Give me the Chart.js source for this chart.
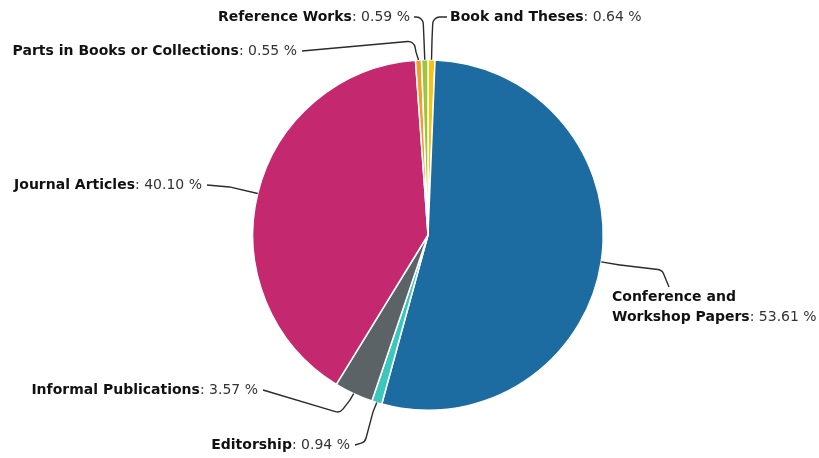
<!DOCTYPE html>
<html>
<head>
<meta charset="utf-8">
<script src="https://cdn.jsdelivr.net/npm/chart.js@4/dist/chart.umd.min.js"></script>
<style>
  html, body { margin: 0; padding: 0; background: #ffffff; }
  #wrap { width: 819px; height: 458px; position: relative; }
</style>
</head>
<body>
<div id="wrap"><canvas id="c" width="819" height="458"></canvas></div>
<script>
// Publication types and their share of all publications (percent)
const categories = [
  'Book and Theses',
  'Conference and Workshop Papers',
  'Editorship',
  'Informal Publications',
  'Journal Articles',
  'Parts in Books or Collections',
  'Reference Works'
];
const shares = [0.64, 53.61, 0.94, 3.57, 40.10, 0.55, 0.59];
const sliceColors = ['#f1c514', '#1c6ba1', '#3cc7bd', '#5c6367', '#c4296f', '#f29d2a', '#9dc43a'];

// Label placement: name lines, text anchor and the bends of each leader line
// (leader runs from the label towards the slice; the slice end comes from the arc)
const labelLayout = [
  { lines: ['Book and Theses'], x: 450, y: 17, align: 'left',
    path: [[447, 17], [433, 17], [432, 40]] },
  { lines: ['Conference and', 'Workshop Papers'], x: 612, y: 297, align: 'left',
    path: [[669, 287], [662, 270], [620, 265]] },
  { lines: ['Editorship'], x: 350, y: 445, align: 'right',
    path: [[355, 445], [365, 442], [373, 412]] },
  { lines: ['Informal Publications'], x: 258, y: 390, align: 'right',
    path: [[263, 390], [340, 413], [350, 400]] },
  { lines: ['Journal Articles'], x: 202, y: 185, align: 'right',
    path: [[207, 185], [230, 187]] },
  { lines: ['Parts in Books or Collections'], x: 297, y: 51, align: 'right',
    path: [[302, 51], [414, 41], [416, 52]] },
  { lines: ['Reference Works'], x: 410, y: 17, align: 'right',
    path: [[414, 17], [423, 17], [424, 40]] }
];

const FONT_FAMILY = '"DejaVu Sans", Verdana, sans-serif';
const FONT_SIZE = 14;
const LINE_H = 20;

function fmt(v) { return v.toFixed(2) + ' %'; }

// Draws each label (bold name + value) and its curved leader line
const leaderLabels = {
  id: 'leaderLabels',
  afterDatasetsDraw(chart) {
    const ctx = chart.ctx;
    const meta = chart.getDatasetMeta(0);
    ctx.save();
    meta.data.forEach((arc, i) => {
      const lay = labelLayout[i];
      const p = arc.getProps(['x', 'y', 'startAngle', 'endAngle', 'outerRadius'], true);
      const mid = (p.startAngle + p.endAngle) / 2;
      const ex = p.x + Math.cos(mid) * p.outerRadius;
      const ey = p.y + Math.sin(mid) * p.outerRadius;

      // leader line with rounded bends
      const pts = lay.path.concat([[ex, ey]]);
      ctx.beginPath();
      ctx.strokeStyle = '#2b2b2b';
      ctx.lineWidth = 1.4;
      ctx.lineJoin = 'round';
      ctx.moveTo(pts[0][0], pts[0][1]);
      for (let k = 1; k < pts.length - 1; k++) {
        ctx.arcTo(pts[k][0], pts[k][1], pts[k + 1][0], pts[k + 1][1], 7);
      }
      ctx.lineTo(ex, ey);
      ctx.stroke();

      // text
      ctx.textBaseline = 'middle';
      const value = ': ' + fmt(shares[i]);
      const boldFont = 'bold ' + FONT_SIZE + 'px ' + FONT_FAMILY;
      const normFont = FONT_SIZE + 'px ' + FONT_FAMILY;
      lay.lines.forEach((line, li) => {
        const y = lay.y + li * LINE_H;
        const last = li === lay.lines.length - 1;
        ctx.font = boldFont;
        const wName = ctx.measureText(line).width;
        ctx.font = normFont;
        const wVal = last ? ctx.measureText(value).width : 0;
        let x0 = lay.align === 'left' ? lay.x : lay.x - (wName + wVal);
        ctx.textAlign = 'left';
        ctx.font = boldFont;
        ctx.fillStyle = '#111111';
        ctx.fillText(line, x0, y);
        if (last) {
          ctx.font = normFont;
          ctx.fillStyle = '#333333';
          ctx.fillText(value, x0 + wName, y);
        }
      });
    });
    ctx.restore();
  }
};

new Chart(document.getElementById('c'), {
  type: 'pie',
  data: {
    labels: categories,
    datasets: [{
      data: shares,
      backgroundColor: sliceColors,
      borderColor: '#ffffff',
      borderWidth: 1.5
    }]
  },
  options: {
    responsive: false,
    animation: false,
    layout: { padding: { left: 252, right: 215, top: 59, bottom: 47 } },
    plugins: { legend: { display: false }, tooltip: { enabled: false } }
  },
  plugins: [leaderLabels]
});
</script>
</body>
</html>
